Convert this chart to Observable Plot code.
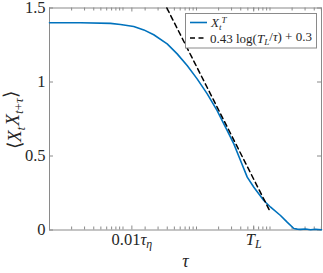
<!DOCTYPE html>
<html><head><meta charset="utf-8">
<script src="https://cdn.jsdelivr.net/npm/d3@7"></script>
<script src="https://cdn.jsdelivr.net/npm/@observablehq/plot@0.6"></script>
<style>body{margin:0;background:#fff} svg{display:block}</style>
</head><body><div id="chart"></div>
<script>
// lag tau (abstract units, log axis) and autocorrelation <X_t X_{t+tau}>
const tau  = [0.001, 0.00264, 0.00676, 0.00925, 0.0140, 0.0192, 0.0262, 0.0399, 0.0546, 0.0746, 0.102, 0.140, 0.191, 0.262, 0.322, 0.397, 0.490, 0.603, 0.824, 1.02, 1.39, 1.71, 2.11, 2.35, 2.60, 3.04, 3.56, 4.16, 5.02];
const corr = [1.400, 1.400, 1.396, 1.389, 1.375, 1.352, 1.319, 1.258, 1.190, 1.111, 1.021, 0.920, 0.807, 0.672, 0.582, 0.470, 0.357, 0.289, 0.199, 0.154, 0.098, 0.053, 0.010, 0.006, 0.004, 0.007, 0.002, 0.005, 0.002];
// fit line 0.43 log(T_L/tau) + 0.3 (endpoints)
const fitTau = [0.0395, 1.02];
const fitVal = [1.5, 0.118];

const yTicks = [0, 0.5, 1, 1.5];
const yTickLabels = ["0", "0.5", "1", "1.5"];
const xTicks = [0.0132, 0.60];
const xTickLabels = ["0.01τη", "TL"];
const xLabel = "τ";
const yLabel = "⟨XtXt+τ⟩";
const legendLabels = ["XtT", "0.43 log(TL/τ) + 0.3"];

const rich = {
  "0.01τη": '0.01<tspan font-style="italic">τ</tspan><tspan font-style="italic" font-size="0.72em" dy="0.3em">η</tspan>',
  "TL": '<tspan font-style="italic">T</tspan><tspan font-style="italic" font-size="0.72em" dy="0.3em">L</tspan>',
  "τ": '<tspan font-style="italic">τ</tspan>',
  "⟨XtXt+τ⟩": '⟨<tspan font-style="italic">X</tspan><tspan font-style="italic" font-size="0.7em" dy="0.3em">t</tspan><tspan font-style="italic" dy="-0.3em" dx="1">X</tspan><tspan font-style="italic" font-size="0.7em" dy="0.3em">t</tspan><tspan font-size="0.7em">+</tspan><tspan font-style="italic" font-size="0.7em">τ</tspan><tspan dy="-0.3em">⟩</tspan>',
  "XtT": '<tspan font-style="italic">X</tspan><tspan font-style="italic" font-size="0.7em" dy="0.3em">t</tspan><tspan font-style="italic" font-size="0.7em" dy="-0.75em">T</tspan>',
  "0.43 log(TL/τ) + 0.3": '0.43 log(<tspan font-style="italic">T</tspan><tspan font-style="italic" font-size="0.7em" dy="0.3em">L</tspan><tspan dy="-0.3em">/</tspan><tspan font-style="italic">τ</tspan>) + 0.3'
};

const curve = tau.map((t, i) => ({t, v: corr[i]}));
const fit = fitTau.map((t, i) => ({t, v: fitVal[i]}));
const xTickData = xTicks.map((t, i) => ({t, label: xTickLabels[i]}));
const yTickData = yTicks.map((v, i) => ({v, label: yTickLabels[i]}));
const xDomain = [0.001, 5.02];
const minor = d3.scaleLog().domain(xDomain).ticks();

const boxColor = "#8a8a8a";
const W = 323, H = 273, mL = 49, mR = 2, mT = 7.5, mB = 43.5;
const pw = W - mL - mR, ph = H - mT - mB;

const svg = Plot.plot({
  width: W, height: H,
  marginLeft: mL, marginRight: mR, marginTop: mT, marginBottom: mB,
  style: {fontFamily: "'Liberation Serif', serif", fontSize: "16px", color: "#262626", background: "white"},
  x: {type: "log", domain: xDomain, axis: null},
  y: {domain: [0, 1.5], axis: null},
  marks: [
    Plot.ruleX(minor, {stroke: boxColor, insetTop: ph - 3}),
    Plot.ruleX(minor, {stroke: boxColor, insetBottom: ph - 3}),
    Plot.ruleX(xTicks, {stroke: boxColor, insetTop: ph - 4}),
    Plot.ruleX(xTicks, {stroke: boxColor, insetBottom: ph - 4}),
    Plot.ruleY(yTicks, {stroke: boxColor, insetRight: pw - 4}),
    Plot.ruleY(yTicks, {stroke: boxColor, insetLeft: pw - 4}),
    Plot.frame({stroke: boxColor}),
    Plot.text(yTickData, {y: "v", text: "label", frameAnchor: "left", dx: -4, textAnchor: "end", fontSize: 16.5, fill: "#262626"}),
    Plot.text(xTickData, {x: "t", text: "label", frameAnchor: "bottom", dy: 3, lineAnchor: "top", fontSize: 16.5, fill: "#262626"}),
    Plot.line(curve, {x: "t", y: "v", stroke: "#0072BD", strokeWidth: 1.6}),
    Plot.line(fit, {x: "t", y: "v", stroke: "black", strokeWidth: 1.5, strokeDasharray: "5,3.5"}),
    Plot.text([xLabel], {frameAnchor: "bottom", dy: 37, fontSize: 18, lineAnchor: "bottom", fill: "#262626"}),
    Plot.text([yLabel], {frameAnchor: "left", dx: -35, dy: 30, rotate: -90, fontSize: 19, fill: "#262626"})
  ]
});

// legend
const g = d3.select(svg).append("g").attr("text-anchor", "start");
g.append("rect").attr("x", 185.5).attr("y", 13.5).attr("width", 131).attr("height", 34.5)
  .attr("fill", "white").attr("stroke", boxColor);
g.append("line").attr("x1", 190).attr("x2", 207).attr("y1", 22.5).attr("y2", 22.5)
  .attr("stroke", "#0072BD").attr("stroke-width", 1.6);
g.append("line").attr("x1", 190).attr("x2", 207).attr("y1", 38).attr("y2", 38)
  .attr("stroke", "black").attr("stroke-width", 1.5).attr("stroke-dasharray", "5,3.5");
g.append("text").attr("x", 211).attr("y", 27).attr("font-size", 13).attr("fill", "#262626").text(legendLabels[0]);
g.append("text").attr("x", 210).attr("y", 42.5).attr("font-size", 13).attr("fill", "#262626").text(legendLabels[1]);

d3.select(svg).selectAll("text").each(function() {
  const s = this.textContent;
  if (rich[s]) {
    const tspans = this.querySelectorAll("tspan");
    if (tspans.length === 1) tspans[0].innerHTML = rich[s]; else this.innerHTML = rich[s];
  }
});
document.getElementById("chart").append(svg);
</script></body></html>
